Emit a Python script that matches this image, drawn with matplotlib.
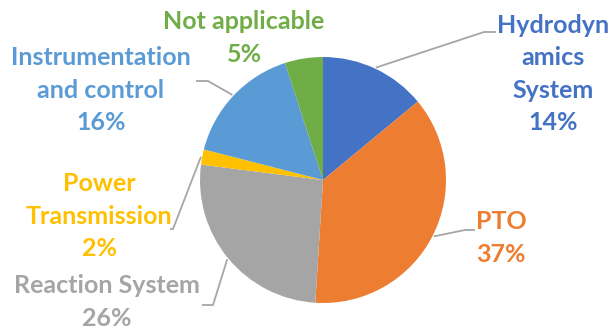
import numpy as np
import matplotlib.pyplot as plt

# share of each category, clockwise from 12 o'clock
categories = ["Hydrodyn\namics\nSystem", "PTO", "Reaction System",
              "Power\nTransmission", "Instrumentation\nand control", "Not applicable"]
shares = [14, 37, 26, 2, 16, 5]
colors = ["#4472C4", "#ED7D31", "#A5A5A5", "#FFC000", "#5B9BD5", "#70AD47"]

# pixel geometry of the original picture
W, H = 610, 328
cx, cy, R = 323, 180, 123


def px(x, y):
    """pixel position -> data coords (pie has radius 1 at origin)"""
    return (x - cx) / R, (cy - y) / R


fig = plt.figure(figsize=(W / 100, H / 100), dpi=100)
ax = fig.add_axes([0, 0, 1, 1])
wedges, _ = ax.pie(shares, colors=colors, startangle=90, counterclock=False,
                   radius=1, wedgeprops=dict(linewidth=0))
x0, y1 = px(0, 0)
x1, y0 = px(W, H)
ax.set_xlim(x0, x1)
ax.set_ylim(y0, y1)
ax.set_aspect("equal")
ax.axis("off")

# label block centres and leader elbows / ends (pixels)
label_pos = [(553, 74), (501, 238), (107, 302), (99, 216), (101, 90), (244, 38)]
leaders = [[(484, 32), (496, 32)],
           [(465, 230), (475, 230)],
           [(213, 305), (202, 305)],
           [(173, 229), (170, 229)],
           [(208, 81), (196, 81)],
           None]

for w, name, s, c, pos, lead in zip(wedges, categories, shares, colors, label_pos, leaders):
    tx, ty = px(*pos)
    ax.text(tx, ty, f"{name}\n{s}%", color=c, fontsize=18, fontweight="bold",
            family="Lato", ha="center", va="center", multialignment="center",
            linespacing=1.5)
    if lead is None:
        continue
    mid = np.deg2rad((w.theta1 + w.theta2) / 2)
    pts = [(np.cos(mid) * 1.01, np.sin(mid) * 1.01)] + [px(*p) for p in lead]
    xs, ys = zip(*pts)
    ax.plot(xs, ys, color="#A6A6A6", lw=1.3, solid_capstyle="butt")

fig.savefig("out.png", dpi=100)
